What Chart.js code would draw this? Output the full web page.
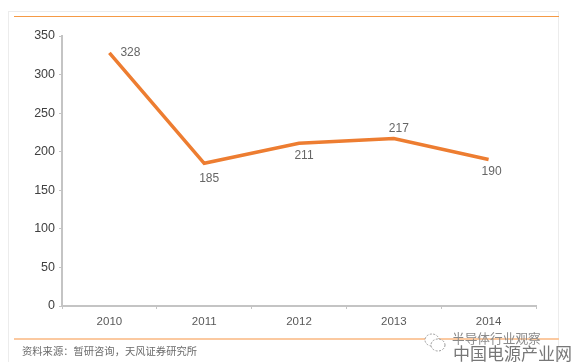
<!DOCTYPE html>
<html>
<head>
<meta charset="utf-8">
<script src="https://cdn.jsdelivr.net/npm/chart.js@4/dist/chart.umd.min.js"></script>
<style>
    html, body { margin: 0; padding: 0; background: #fff; }
    #wrap { position: relative; width: 571px; height: 362px; overflow: hidden; font-family: "Liberation Sans", "Noto Sans CJK SC", sans-serif; }
    #wrap canvas { position: absolute; left: 0; top: 0; }
    .frame { position: absolute; left: 8px; top: 11px; width: 551px; height: 360px; border: 1px solid #ececec; box-sizing: border-box; }
    .rule { position: absolute; left: 14px; width: 545px; height: 1px; }
    .txt { position: absolute; white-space: nowrap; }
</style>
</head>
<body>
<div id="wrap">
    <div class="frame"></div>
    <div class="rule" style="top:16px;background:#f59a45"></div>
    <div class="rule" style="top:338px;height:2px;background:#fbc9a0"></div>
    <canvas id="marketChart" width="571" height="362"></canvas>
    <div class="txt" style="left:22px;top:344px;font-size:10.3px;line-height:13px;color:#6b6b6b;font-family:'Noto Sans CJK SC'">资料来源：暂研咨询，天风证券研究所</div>
    <svg class="txt" style="left:423px;top:331px" width="24" height="24" viewBox="0 0 24 24">
        <ellipse cx="9" cy="9" rx="7" ry="6" fill="#fff" stroke="#9a9a9a" stroke-width="1" stroke-dasharray="2 1.5"/>
        <ellipse cx="15" cy="14" rx="7" ry="6" fill="#fff" stroke="#9a9a9a" stroke-width="1" stroke-dasharray="2 1.5"/>
    </svg>
    <div class="txt" style="left:452px;top:330px;font-size:12.7px;line-height:15px;color:#8a8a8a;font-family:'Noto Sans CJK SC'">半导体行业观察</div>
    <div class="txt" style="left:453px;top:342px;font-size:17px;line-height:22px;color:#777;font-family:'Noto Sans CJK SC'">中国电源产业网</div>
</div>
<script>
    // 2010-2014 数据
    const years = ['2010', '2011', '2012', '2013', '2014'];
    const values = [328, 185, 211, 217, 190];
    const yTicks = [0, 50, 100, 150, 200, 250, 300, 350];

    // 数据标签偏移 (相对于点)
    const labelOffsets = [[21, 0], [5, 15], [5, 12], [5, -10], [3, 12]];

    const pointLabels = {
        id: 'pointLabels',
        afterDatasetsDraw(chart) {
            const c = chart.ctx;
            c.save();
            c.font = '12px "Liberation Sans"';
            c.fillStyle = '#666';
            c.textAlign = 'center';
            c.textBaseline = 'middle';
            chart.getDatasetMeta(0).data.forEach((pt, i) => {
                c.fillText(values[i], pt.x + labelOffsets[i][0], pt.y + labelOffsets[i][1]);
            });
            c.restore();
        }
    };

    const ctx = document.getElementById('marketChart').getContext('2d');
    const marketChart = new Chart(ctx, {
        type: 'line',
        data: {
            labels: years,
            datasets: [{
                data: values,
                borderColor: '#ed7d31',
                borderWidth: 3.5,
                pointRadius: 0,
                tension: 0,
                borderCapStyle: 'butt',
                borderJoinStyle: 'miter'
            }]
        },
        options: {
            responsive: false,
            animation: false,
            events: [],
            layout: { padding: { left: 0, right: 35, top: 36, bottom: 0 } },
            plugins: { legend: { display: false }, tooltip: { enabled: false } },
            scales: {
                x: {
                    offset: true,
                    border: { color: '#c4c4c4', width: 2 },
                    grid: { drawOnChartArea: false, drawTicks: true, tickLength: 3, color: '#c4c4c4', offset: true },
                    ticks: { color: '#595959', font: { family: '"Liberation Sans"', size: 11.5 }, padding: 6, maxRotation: 0 },
                    afterFit(scale) { scale.height = 56; }
                },
                y: {
                    min: 0,
                    max: 350,
                    afterBuildTicks(scale) { scale.ticks = yTicks.map(v => ({ value: v })); },
                    border: { color: '#c4c4c4', width: 2 },
                    grid: { drawOnChartArea: false, drawTicks: true, tickLength: 3, color: '#c4c4c4' },
                    ticks: { color: '#404040', font: { family: '"Liberation Sans"', size: 12.5 }, padding: 4 },
                    afterFit(scale) { scale.width = 62; }
                }
            }
        },
        plugins: [pointLabels]
    });
</script>
</body>
</html>
